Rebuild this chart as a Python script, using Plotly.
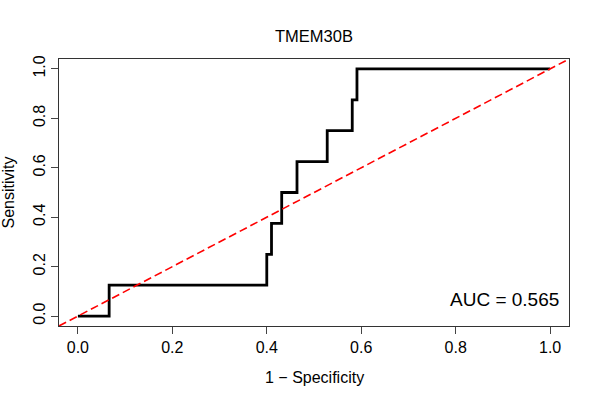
import plotly.graph_objects as go

# ROC curve data (1 - specificity, sensitivity)
fpr = [0.0, 0.0662, 0.400, 0.410, 0.4316, 0.464, 0.528, 0.581, 0.591, 1.0]
tpr = [0.0, 0.125, 0.250, 0.375, 0.500, 0.625, 0.750, 0.875, 1.000, 1.0]

# reference diagonal (spans the whole plotting region)
diag = [-0.04, 1.04]

x_ticks = [0.0, 0.2, 0.4, 0.6, 0.8, 1.0]
y_ticks = [0.0, 0.2, 0.4, 0.6, 0.8, 1.0]
tick_text = ["0.0", "0.2", "0.4", "0.6", "0.8", "1.0"]

title_text = "TMEM30B"
x_label = "1 \u2212 Specificity"
y_label = "Sensitivity"
auc_text = "AUC = 0.565"

FONT = "Liberation Sans, Arial, sans-serif"

fig = go.Figure()
fig.add_trace(go.Scatter(
    x=fpr, y=tpr, mode="lines", line=dict(color="black", width=2.8, shape="hv"),
    showlegend=False, hoverinfo="skip"))
fig.add_trace(go.Scatter(
    x=diag, y=diag, mode="lines",
    line=dict(color="#FF0000", width=1.6, dash="8px,4px"),
    showlegend=False, hoverinfo="skip"))

axis_common = dict(
    showgrid=False, zeroline=False, showline=True, mirror=True,
    linecolor="#333333", linewidth=1, ticks="outside", ticklen=7,
    tickcolor="#444444", tickwidth=1,
    tickfont=dict(family=FONT, size=16, color="black"),
)

fig.update_layout(
    width=600, height=400,
    margin=dict(l=59, r=31, t=59, b=74),
    paper_bgcolor="white", plot_bgcolor="white",
    xaxis=dict(range=[-0.04, 1.04], tickvals=x_ticks, ticktext=tick_text, **axis_common),
    yaxis=dict(range=[-0.04, 1.04], tickvals=y_ticks, ticktext=tick_text,
               tickangle=-90, **axis_common),
    annotations=[
        dict(text=title_text, xref="paper", yref="paper", x=0.5, y=1, yshift=23,
             xanchor="center", yanchor="middle", showarrow=False,
             font=dict(family=FONT, size=16.5, color="black")),
        dict(text=x_label, xref="paper", yref="paper", x=0.5, y=0, yshift=-51,
             xanchor="center", yanchor="middle", showarrow=False,
             font=dict(family=FONT, size=16, color="black")),
        dict(text=y_label, xref="paper", yref="paper", x=0, y=0.5, xshift=-51,
             xanchor="center", yanchor="middle", textangle=-90, showarrow=False,
             font=dict(family=FONT, size=16, color="black")),
        dict(text=auc_text, xref="paper", yref="paper", x=1, y=0, xshift=-8, yshift=14,
             xanchor="right", yanchor="bottom", showarrow=False,
             font=dict(family=FONT, size=19, color="black")),
    ],
)

fig.write_html("out.html", config={"displayModeBar": False},
               post_script="document.body.style.margin='0';")
